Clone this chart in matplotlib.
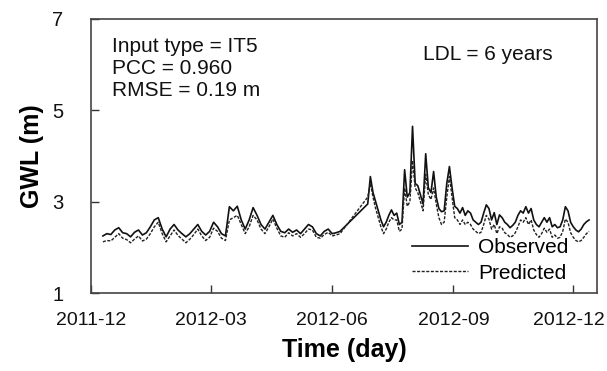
import numpy as np
import pandas as pd
import matplotlib
matplotlib.use("Agg")
import matplotlib.pyplot as plt
import matplotlib.transforms as mtransforms

plt.rcParams["font.family"] = ["Liberation Sans", "DejaVu Sans"]

observed_1 = [2.25, 2.3, 2.28, 2.38, 2.43, 2.32, 2.3, 2.23, 2.33, 2.38,
              2.27, 2.32, 2.45, 2.6, 2.65, 2.4, 2.23, 2.4, 2.5, 2.38,
              2.3, 2.23, 2.3, 2.4, 2.5, 2.35, 2.27, 2.35, 2.55, 2.45,
              2.3, 2.25, 2.89, 2.8, 2.9, 2.6, 2.4, 2.6, 2.87, 2.7,
              2.5, 2.4, 2.55, 2.7, 2.5, 2.35, 2.32, 2.4, 2.33, 2.38,
              2.3, 2.4, 2.5, 2.45, 2.3, 2.25, 2.35, 2.4, 2.3, 2.32, 2.35]
predicted_1 = [2.12, 2.15, 2.14, 2.22, 2.3, 2.2, 2.17, 2.1, 2.18, 2.25,
               2.14, 2.18, 2.3, 2.45, 2.55, 2.3, 2.12, 2.25, 2.38, 2.26,
               2.18, 2.1, 2.18, 2.28, 2.4, 2.25, 2.15, 2.22, 2.42, 2.35,
               2.2, 2.15, 2.6, 2.65, 2.7, 2.5, 2.3, 2.45, 2.7, 2.6,
               2.4, 2.3, 2.45, 2.62, 2.42, 2.25, 2.22, 2.32, 2.25, 2.3,
               2.22, 2.3, 2.4, 2.38, 2.22, 2.2, 2.28, 2.33, 2.25, 2.27, 2.3]

observed_2 = [2.95, 3.55, 3.2, 3.0, 2.8, 2.6, 2.45, 2.55, 2.7, 2.82,
              2.7, 2.75, 2.5, 2.55, 3.7, 3.1, 3.2, 4.65, 3.4, 3.35,
              3.15, 2.95, 4.05, 3.3, 3.2, 3.66, 3.1, 2.85, 2.78, 2.8,
              3.4, 3.77, 3.3, 2.9, 2.85, 2.75, 2.87, 2.7, 2.8, 2.75,
              2.6, 2.55, 2.5, 2.55, 2.75, 2.93, 2.85, 2.6, 2.76, 2.5,
              2.71, 2.65, 2.55, 2.5, 2.43, 2.48, 2.55, 2.7, 2.8, 2.75,
              2.89, 2.75, 2.85, 2.6, 2.5, 2.45, 2.55, 2.65, 2.55, 2.65,
              2.45, 2.5, 2.43, 2.45, 2.6, 2.89, 2.8, 2.55, 2.45, 2.38,
              2.34, 2.4, 2.5, 2.56, 2.6]
predicted_2 = [3.1, 3.4, 3.1, 2.85, 2.65, 2.45, 2.3, 2.4, 2.55, 2.65,
               2.6, 2.6, 2.35, 2.4, 3.3, 2.9, 3.0, 3.9, 3.3, 3.2,
               3.0, 2.8, 3.6, 3.15, 3.05, 3.3, 2.95, 2.65, 2.5, 2.55,
               3.1, 3.55, 3.1, 2.65, 2.6, 2.5, 2.6, 2.5, 2.55, 2.5,
               2.4, 2.35, 2.3, 2.33, 2.5, 2.7, 2.62, 2.4, 2.5, 2.3,
               2.45, 2.42, 2.32, 2.28, 2.22, 2.25, 2.32, 2.45, 2.6, 2.55,
               2.65, 2.5, 2.6, 2.38, 2.28, 2.22, 2.3, 2.42, 2.33, 2.4,
               2.22, 2.27, 2.2, 2.22, 2.35, 2.62, 2.55, 2.32, 2.22, 2.15,
               2.12, 2.15, 2.22, 2.3, 2.35]

# Sampling dates: winter-spring record (every 3 days), summer-winter record (every 2 days)
dates_1 = pd.date_range("2011-12-10", periods=len(observed_1), freq="3D")
dates_2 = pd.date_range("2012-06-28", periods=len(observed_2), freq="2D")

tick_dates = ["2011-12-01", "2012-03-01", "2012-06-01", "2012-09-01", "2012-12-01"]
tick_labels = ["2011-12", "2012-03", "2012-06", "2012-09", "2012-12"]
y_ticks = [1, 3, 5, 7]

dates = dates_1.append(dates_2)
observed = observed_1 + observed_2
predicted = predicted_1 + predicted_2

fig = plt.figure(figsize=(6.07, 3.71), dpi=100)
ax = fig.add_axes([0.15, 0.2102, 0.8335, 0.7386])

ax.plot(dates, observed, color="#111111", lw=1.2, ls="-", label="Observed")
ax.plot(dates, predicted, color="#222222", lw=1.0, ls=(0, (2.2, 1.1)), label="Predicted")

ax.set_xlim(pd.Timestamp("2011-12-01"), pd.Timestamp("2012-12-19"))
ax.set_ylim(1, 7)
ax.set_yticks(y_ticks)
ax.set_xticks([pd.Timestamp(d) for d in tick_dates])
ax.set_xticklabels(tick_labels)

ax.tick_params(axis="both", direction="in", length=6, width=1.0, color="#333333",
               labelsize=14.5, labelcolor="#111111")
ax.tick_params(axis="x", labelsize=14, pad=14)
ax.tick_params(axis="y", pad=20)
for sp in ax.spines.values():
    sp.set_color("#444444")
    sp.set_linewidth(1.2)

# keep the last date label inside the figure edge
last_lbl = ax.get_xticklabels()[-1]
last_lbl.set_transform(last_lbl.get_transform() +
                       mtransforms.ScaledTranslation(-4 / 100, 0, fig.dpi_scale_trans))

ax.set_ylabel("GWL (m)", fontsize=18, fontweight="bold", labelpad=6)
ax.set_xlabel("Time (day)", fontsize=18, fontweight="bold", labelpad=6)

ax.text(0.042, 0.935, "Input type = IT5\nPCC = 0.960\nRMSE = 0.19 m", transform=ax.transAxes,
        fontsize=15, va="top", ha="left", linespacing=1.2, color="#111111")
ax.text(0.656, 0.869, "LDL = 6 years", transform=ax.transAxes,
        fontsize=15, va="center", ha="left", color="#111111")

ax.legend(loc="lower right", frameon=False, fontsize=15, handlelength=2.7,
          handletextpad=0.5, labelspacing=0.3, borderaxespad=0.1,
          bbox_to_anchor=(0.965, 0.0))

fig.savefig("out.png", dpi=100)
